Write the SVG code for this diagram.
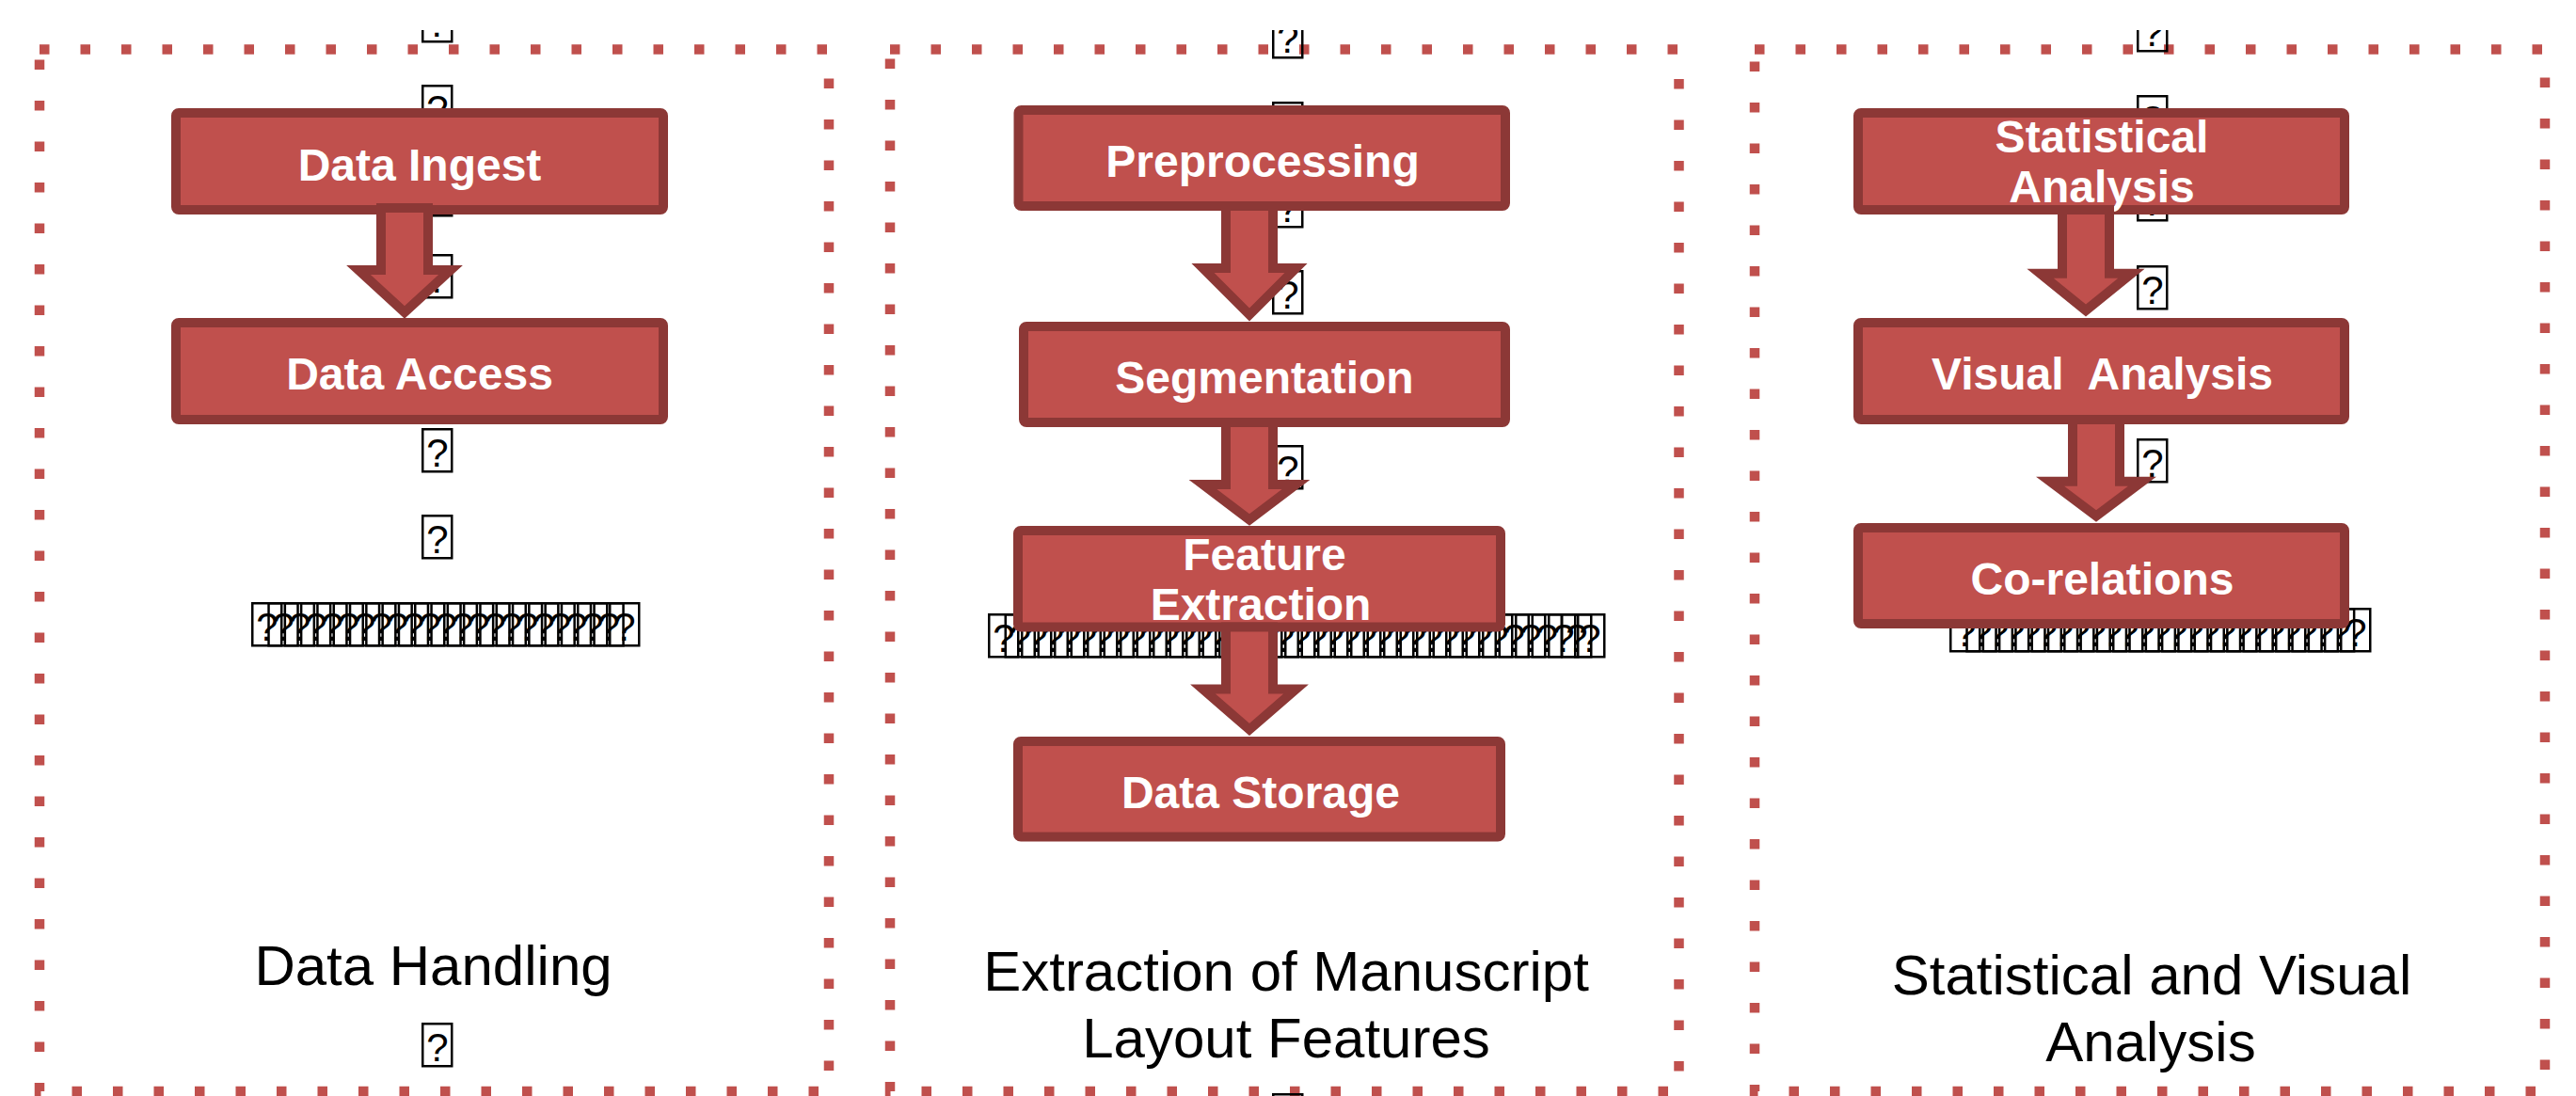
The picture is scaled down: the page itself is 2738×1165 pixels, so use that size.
<svg xmlns="http://www.w3.org/2000/svg" xmlns:xlink="http://www.w3.org/1999/xlink" width="2738" height="1165" viewBox="0 0 2738 1165">
  <style>
    .frame { fill: none; stroke: #C0504D; stroke-width: 10.5; stroke-dasharray: 10.5 33; }
    .box { fill: #C0504D; stroke: #8C3836; stroke-width: 10; }
    .arrow { fill: #C0504D; stroke: #8C3836; stroke-width: 10; stroke-linejoin: miter; stroke-miterlimit: 10; }
    .label { font-family: "Liberation Sans", Arial, sans-serif; font-weight: bold; font-size: 48px; fill: #FFFFFF; text-anchor: middle; white-space: pre; }
    .caption { font-family: "Liberation Sans", Arial, sans-serif; font-size: 60px; fill: #000000; text-anchor: middle; }
    .glyph { font-family: "Liberation Sans", Arial, sans-serif; font-size: 42px; fill: #000000; text-anchor: middle; }
  </style>
  <defs>
    <!-- placeholder glyph box for characters the font could not show -->
    <g id="tofu">
      <rect x="1.25" y="1.25" width="31" height="45" fill="none" stroke="#000" stroke-width="2.5"/>
      <text class="glyph" x="17" y="41">?</text>
    </g>
    <clipPath id="pageClip">
      <rect x="0" y="32" width="2738" height="1133"/>
    </clipPath>
  </defs>

  <rect x="0" y="0" width="2738" height="1165" fill="#FFFFFF"/>

  <!-- dotted stage frames -->
  <g id="frames">
    <rect id="frame-handling" class="frame" x="42" y="52.5" width="839" height="1107.5"/>
    <rect id="frame-extraction" class="frame" x="946" y="52.5" width="838.5" height="1107.5"/>
    <rect id="frame-analysis" class="frame" x="1865" y="52.5" width="840" height="1107.5"/>
  </g>

  <!-- unrendered symbol runs -->
  <g id="glyph-runs" clip-path="url(#pageClip)">
    <!-- left column -->
    <use xlink:href="#tofu" x="448" y="-2"/>
    <use xlink:href="#tofu" x="448" y="90"/>
    <use xlink:href="#tofu" x="448" y="183"/>
    <use xlink:href="#tofu" x="448" y="270"/>
    <use xlink:href="#tofu" x="448" y="455"/>
    <use xlink:href="#tofu" x="448" y="547"/>
    <g id="run-left">
      <use xlink:href="#tofu" x="267" y="640"/><use xlink:href="#tofu" x="284.3" y="640"/><use xlink:href="#tofu" x="301.6" y="640"/><use xlink:href="#tofu" x="318.9" y="640"/>
      <use xlink:href="#tofu" x="336.2" y="640"/><use xlink:href="#tofu" x="353.5" y="640"/><use xlink:href="#tofu" x="370.8" y="640"/><use xlink:href="#tofu" x="388.1" y="640"/>
      <use xlink:href="#tofu" x="405.4" y="640"/><use xlink:href="#tofu" x="422.7" y="640"/><use xlink:href="#tofu" x="440" y="640"/><use xlink:href="#tofu" x="457.3" y="640"/>
      <use xlink:href="#tofu" x="474.6" y="640"/><use xlink:href="#tofu" x="491.9" y="640"/><use xlink:href="#tofu" x="509.2" y="640"/><use xlink:href="#tofu" x="526.5" y="640"/>
      <use xlink:href="#tofu" x="543.8" y="640"/><use xlink:href="#tofu" x="561.1" y="640"/><use xlink:href="#tofu" x="578.4" y="640"/><use xlink:href="#tofu" x="595.7" y="640"/>
      <use xlink:href="#tofu" x="613" y="640"/><use xlink:href="#tofu" x="630.3" y="640"/><use xlink:href="#tofu" x="647" y="640"/>
    </g>
    <use xlink:href="#tofu" x="448" y="1087"/>

    <!-- middle column -->
    <use xlink:href="#tofu" x="1352" y="15"/>
    <use xlink:href="#tofu" x="1352" y="108"/>
    <use xlink:href="#tofu" x="1352" y="195"/>
    <use xlink:href="#tofu" x="1352" y="287"/>
    <use xlink:href="#tofu" x="1352" y="473"/>
    <g id="run-middle">
      <use xlink:href="#tofu" x="1050" y="652"/><use xlink:href="#tofu" x="1067.5" y="652"/><use xlink:href="#tofu" x="1085" y="652"/><use xlink:href="#tofu" x="1102.5" y="652"/>
      <use xlink:href="#tofu" x="1120" y="652"/><use xlink:href="#tofu" x="1137.5" y="652"/><use xlink:href="#tofu" x="1155" y="652"/><use xlink:href="#tofu" x="1172.5" y="652"/>
      <use xlink:href="#tofu" x="1190" y="652"/><use xlink:href="#tofu" x="1207.5" y="652"/><use xlink:href="#tofu" x="1225" y="652"/><use xlink:href="#tofu" x="1242.5" y="652"/>
      <use xlink:href="#tofu" x="1260" y="652"/><use xlink:href="#tofu" x="1277.5" y="652"/><use xlink:href="#tofu" x="1295" y="652"/><use xlink:href="#tofu" x="1312.5" y="652"/>
      <use xlink:href="#tofu" x="1330" y="652"/><use xlink:href="#tofu" x="1347.5" y="652"/><use xlink:href="#tofu" x="1365" y="652"/><use xlink:href="#tofu" x="1382.5" y="652"/>
      <use xlink:href="#tofu" x="1400" y="652"/><use xlink:href="#tofu" x="1417.5" y="652"/><use xlink:href="#tofu" x="1435" y="652"/><use xlink:href="#tofu" x="1452.5" y="652"/>
      <use xlink:href="#tofu" x="1470" y="652"/><use xlink:href="#tofu" x="1487.5" y="652"/><use xlink:href="#tofu" x="1505" y="652"/><use xlink:href="#tofu" x="1522.5" y="652"/>
      <use xlink:href="#tofu" x="1540" y="652"/><use xlink:href="#tofu" x="1557.5" y="652"/><use xlink:href="#tofu" x="1575" y="652"/><use xlink:href="#tofu" x="1592.5" y="652"/>
      <use xlink:href="#tofu" x="1610" y="652"/><use xlink:href="#tofu" x="1627.5" y="652"/><use xlink:href="#tofu" x="1645" y="652"/><use xlink:href="#tofu" x="1659" y="652"/>
      <use xlink:href="#tofu" x="1673" y="652"/>
    </g>
    <use xlink:href="#tofu" x="1352" y="1162"/>

    <!-- right column -->
    <use xlink:href="#tofu" x="2271" y="8"/>
    <use xlink:href="#tofu" x="2271" y="101"/>
    <use xlink:href="#tofu" x="2271" y="188"/>
    <use xlink:href="#tofu" x="2271" y="282"/>
    <use xlink:href="#tofu" x="2271" y="466"/>
    <g id="run-right">
      <use xlink:href="#tofu" x="2072" y="646"/><use xlink:href="#tofu" x="2089.3" y="646"/><use xlink:href="#tofu" x="2106.6" y="646"/><use xlink:href="#tofu" x="2123.9" y="646"/>
      <use xlink:href="#tofu" x="2141.2" y="646"/><use xlink:href="#tofu" x="2158.5" y="646"/><use xlink:href="#tofu" x="2175.8" y="646"/><use xlink:href="#tofu" x="2193.1" y="646"/>
      <use xlink:href="#tofu" x="2210.4" y="646"/><use xlink:href="#tofu" x="2227.7" y="646"/><use xlink:href="#tofu" x="2245" y="646"/><use xlink:href="#tofu" x="2262.3" y="646"/>
      <use xlink:href="#tofu" x="2279.6" y="646"/><use xlink:href="#tofu" x="2296.9" y="646"/><use xlink:href="#tofu" x="2314.2" y="646"/><use xlink:href="#tofu" x="2331.5" y="646"/>
      <use xlink:href="#tofu" x="2348.8" y="646"/><use xlink:href="#tofu" x="2366.1" y="646"/><use xlink:href="#tofu" x="2383.4" y="646"/><use xlink:href="#tofu" x="2400.7" y="646"/>
      <use xlink:href="#tofu" x="2418" y="646"/><use xlink:href="#tofu" x="2435.3" y="646"/><use xlink:href="#tofu" x="2452.6" y="646"/><use xlink:href="#tofu" x="2469.9" y="646"/>
      <use xlink:href="#tofu" x="2487" y="646"/>
    </g>
  </g>

  <!-- process steps -->
  <g id="node-data-ingest">
    <rect class="box" x="187" y="120" width="518" height="103" rx="3"/>
    <text class="label" x="446" y="191.7">Data Ingest</text>
  </g>
  <g id="node-data-access">
    <rect class="box" x="187" y="343" width="518" height="103" rx="3"/>
    <text class="label" x="446" y="414">Data Access</text>
  </g>
  <g id="node-preprocessing">
    <rect class="box" x="1082.5" y="117" width="517.5" height="102" rx="3"/>
    <text class="label" x="1342" y="188">Preprocessing</text>
  </g>
  <g id="node-segmentation">
    <rect class="box" x="1088" y="347" width="512" height="102" rx="3"/>
    <text class="label" x="1344" y="418">Segmentation</text>
  </g>
  <g id="node-feature-extraction">
    <rect class="box" x="1082" y="564" width="513" height="102.5" rx="3"/>
    <text class="label" x="1344" y="606">Feature</text>
    <text class="label" x="1340" y="659">Extraction</text>
  </g>
  <g id="node-data-storage">
    <rect class="box" x="1082" y="788" width="513" height="101.5" rx="3"/>
    <text class="label" x="1340" y="859">Data Storage</text>
  </g>
  <g id="node-statistical-analysis">
    <rect class="box" x="1975" y="120" width="517" height="103" rx="3"/>
    <text class="label" x="2234" y="161.7">Statistical</text>
    <text class="label" x="2234" y="215">Analysis</text>
  </g>
  <g id="node-visual-analysis">
    <rect class="box" x="1975" y="343" width="517" height="103" rx="3"/>
    <text class="label" x="2234.5" y="414">Visual  Analysis</text>
  </g>
  <g id="node-co-relations">
    <rect class="box" x="1975" y="561" width="517" height="102" rx="3"/>
    <text class="label" x="2234.5" y="631.7">Co-relations</text>
  </g>

  <!-- block arrows between steps -->
  <g id="connectors">
    <polygon class="arrow" points="405,221 455,221 455,287 479,287 430,332 381,287 405,287"/>
    <polygon class="arrow" points="1303,219 1353,219 1353,285 1377.5,285 1328,334.5 1278.5,285 1303,285"/>
    <polygon class="arrow" points="1303,449 1353,449 1353,515 1377.5,515 1328,552.5 1278.5,515 1303,515"/>
    <polygon class="arrow" points="1303,666.5 1353,666.5 1353,732.5 1377.5,732.5 1328,775.5 1278.5,732.5 1303,732.5"/>
    <polygon class="arrow" points="2192,223 2242,223 2242,290.7 2265.5,290.7 2217,330 2168.5,290.7 2192,290.7"/>
    <polygon class="arrow" points="2203,446 2253,446 2253,511.7 2277,511.7 2228,548.5 2179,511.7 2203,511.7"/>
  </g>

  <!-- stage captions -->
  <g id="captions">
    <text class="caption" x="460.5" y="1047">Data Handling</text>
    <text class="caption" x="1367" y="1053">Extraction of Manuscript</text>
    <text class="caption" x="1367" y="1124">Layout Features</text>
    <text class="caption" x="2287" y="1057">Statistical and Visual</text>
    <text class="caption" x="2286" y="1128">Analysis</text>
  </g>
</svg>
